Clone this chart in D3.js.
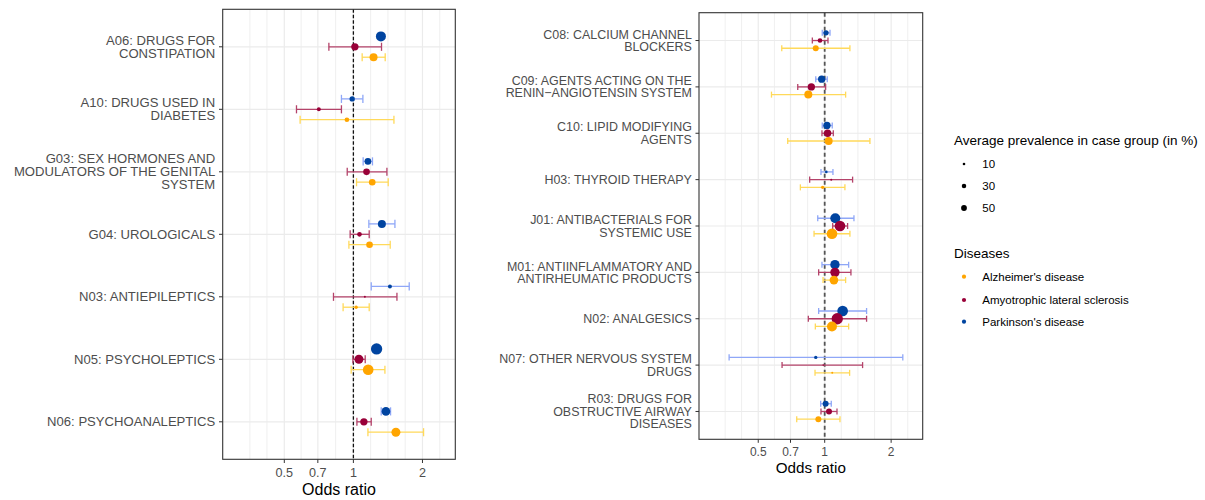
<!DOCTYPE html>
<html><head><meta charset="utf-8">
<script src="https://cdn.jsdelivr.net/npm/d3@7"></script>
<style>
body{margin:0;background:#fff;}
svg{display:block;font-family:"Liberation Sans",Arial,Helvetica,sans-serif;}
</style></head>
<body><svg id="c" width="1205" height="500"></svg>
<script>
// ---------- data ----------
const diseases = ["Alzheimer's disease", "Amyotrophic lateral sclerosis", "Parkinson's disease"];
const xTicks = [0.5, 0.7, 1, 2];
const xTickLabels = ["0.5", "0.7", "1", "2"];
const xMinor = [0.354, 0.42, 0.592, 0.837, 1.189, 1.414, 1.682, 2.378];
const sizeLegendValues = [10, 30, 50];

const leftLabels = ["A06: DRUGS FOR\nCONSTIPATION", "A10: DRUGS USED IN\nDIABETES",
  "G03: SEX HORMONES AND\nMODULATORS OF THE GENITAL\nSYSTEM", "G04: UROLOGICALS",
  "N03: ANTIEPILEPTICS", "N05: PSYCHOLEPTICS", "N06: PSYCHOANALEPTICS"];
const leftAD_or   = [1.224, 0.937, 1.208, 1.176, 1.028, 1.160, 1.532];
const leftAD_lo   = [1.092, 0.586, 1.032, 0.956, 0.902, 0.978, 1.157];
const leftAD_hi   = [1.376, 1.502, 1.418, 1.447, 1.172, 1.372, 2.022];
const leftAD_prev = [28.5, 9.7, 19.8, 19.8, 5, 50.7, 36];
const leftALS_or   = [1.015, 0.707, 1.141, 1.063, 1.122, 1.057, 1.111];
const leftALS_lo   = [0.782, 0.565, 0.940, 0.968, 0.819, 0.995, 1.036];
const leftALS_hi   = [1.326, 0.887, 1.400, 1.172, 1.548, 1.126, 1.196];
const leftALS_prev = [24, 7.1, 19.8, 9.7, 1.8, 36, 24];
const leftPD_or   = [1.318, 0.988, 1.157, 1.331, 1.443, 1.262, 1.386];
const leftPD_lo   = [1.300, 0.887, 1.103, 1.168, 1.196, 1.245, 1.322];
const leftPD_hi   = [1.336, 1.100, 1.211, 1.517, 1.751, 1.280, 1.452];
const leftPD_prev = [44.6, 12.7, 19.8, 28.5, 7.1, 57, 33.5];

const rightLabels = ["C08: CALCIUM CHANNEL\nBLOCKERS", "C09: AGENTS ACTING ON THE\nRENIN\u2212ANGIOTENSIN SYSTEM",
  "C10: LIPID MODIFYING\nAGENTS", "H03: THYROID THERAPY", "J01: ANTIBACTERIALS FOR\nSYSTEMIC USE",
  "M01: ANTIINFLAMMATORY AND\nANTIRHEUMATIC PRODUCTS", "N02: ANALGESICS",
  "N07: OTHER NERVOUS SYSTEM\nDRUGS", "R03: DRUGS FOR\nOBSTRUCTIVE AIRWAY\nDISEASES"];
const rightAD_or   = [0.911, 0.843, 1.042, 0.979, 1.079, 1.101, 1.079, 1.082, 0.936];
const rightAD_lo   = [0.639, 0.574, 0.680, 0.776, 0.895, 0.983, 0.907, 0.904, 0.747];
const rightAD_hi   = [1.301, 1.244, 1.603, 1.235, 1.301, 1.244, 1.284, 1.297, 1.173];
const rightAD_prev = [16, 28.5, 28.5, 5, 50.7, 33.5, 44.6, 1.8, 16];
const rightALS_or   = [0.952, 0.870, 1.031, 1.071, 1.173, 1.113, 1.140, 0.985, 1.046];
const rightALS_lo   = [0.879, 0.755, 0.972, 0.855, 1.087, 0.939, 0.843, 0.641, 0.962];
const rightALS_hi   = [1.035, 1.010, 1.094, 1.338, 1.270, 1.315, 1.548, 1.485, 1.137];
const rightALS_prev = [9.7, 24, 24, 1.8, 50.7, 38.8, 57, 0.8, 16];
const rightPD_or   = [1.014, 0.969, 1.024, 1.017, 1.117, 1.113, 1.206, 0.911, 1.010];
const rightPD_lo   = [0.975, 0.911, 0.975, 0.962, 0.930, 0.972, 0.939, 0.369, 0.959];
const rightPD_hi   = [1.057, 1.027, 1.082, 1.090, 1.357, 1.284, 1.548, 2.259, 1.071];
const rightPD_prev = [12.7, 24, 24, 3.2, 44.6, 38.8, 50.7, 5, 16];

// ---------- styles ----------
const pointColor = {"Alzheimer's disease":"#FFA500","Amyotrophic lateral sclerosis":"#990038","Parkinson's disease":"#0044A0"};
const ciColor = {"Alzheimer's disease":"#FFD95A","Amyotrophic lateral sclerosis":"#B4436A","Parkinson's disease":"#8FA7F7"};
const dodge = {"Alzheimer's disease":1,"Amyotrophic lateral sclerosis":0,"Parkinson's disease":-1};
const drawOrder = ["Parkinson's disease","Amyotrophic lateral sclerosis","Alzheimer's disease"];
const rScale = d3.scaleSqrt().domain([0, 60]).range([0, 5.8]);
const legendR = d3.scaleSqrt().domain([0, 50]).range([0, 2.9]);

function build(labels, ad, als, pd){
  const rows = [];
  const sets = {"Alzheimer's disease":ad,"Amyotrophic lateral sclerosis":als,"Parkinson's disease":pd};
  drawOrder.forEach(dz => {
    const s = sets[dz];
    labels.forEach((lab,i) => rows.push({cat:lab, disease:dz, or:s[0][i], lo:s[1][i], hi:s[2][i], prev:s[3][i]}));
  });
  return rows;
}
const leftData = build(leftLabels, [leftAD_or,leftAD_lo,leftAD_hi,leftAD_prev],
  [leftALS_or,leftALS_lo,leftALS_hi,leftALS_prev], [leftPD_or,leftPD_lo,leftPD_hi,leftPD_prev]);
const rightData = build(rightLabels, [rightAD_or,rightAD_lo,rightAD_hi,rightAD_prev],
  [rightALS_or,rightALS_lo,rightALS_hi,rightALS_prev], [rightPD_or,rightPD_lo,rightPD_hi,rightPD_prev]);

const svg = d3.select("#c");

function panel(opts){
  const {x0,x1,y0,y1,labels,data,refColor,refWidth,refDash,fs} = opts;
  const g = svg.append("g");
  const x = d3.scaleLog().domain([0.2695, 2.78]).range([x0, x1]);
  const y = d3.scalePoint().domain(labels).range([y0, y1]).padding(0.6);
  const step = y.step();
  const off = step/6;
  // grid
  g.selectAll(".mn").data(xMinor).join("line")
    .attr("x1",d=>x(d)).attr("x2",d=>x(d)).attr("y1",y0).attr("y2",y1)
    .attr("stroke","#EBEBEB").attr("stroke-width",0.8);
  g.selectAll(".mj").data(xTicks).join("line")
    .attr("x1",d=>x(d)).attr("x2",d=>x(d)).attr("y1",y0).attr("y2",y1)
    .attr("stroke","#EBEBEB").attr("stroke-width",1.2);
  g.selectAll(".hg").data(labels).join("line")
    .attr("x1",x0).attr("x2",x1).attr("y1",d=>y(d)).attr("y2",d=>y(d))
    .attr("stroke","#EBEBEB").attr("stroke-width",1.2);
  // reference line
  g.append("line").attr("x1",x(1)).attr("x2",x(1)).attr("y1",y0).attr("y2",y1)
    .attr("stroke",refColor).attr("stroke-width",refWidth).attr("stroke-dasharray",refDash);
  // error bars
  const cap = step*0.065;
  const eb = g.append("g").selectAll("g").data(data).join("g")
    .attr("stroke",d=>ciColor[d.disease]).attr("stroke-width",1.3).attr("fill","none");
  eb.append("line").attr("x1",d=>x(d.lo)).attr("x2",d=>x(d.hi))
    .attr("y1",d=>y(d.cat)+dodge[d.disease]*off).attr("y2",d=>y(d.cat)+dodge[d.disease]*off);
  eb.append("line").attr("x1",d=>x(d.lo)).attr("x2",d=>x(d.lo))
    .attr("y1",d=>y(d.cat)+dodge[d.disease]*off-cap).attr("y2",d=>y(d.cat)+dodge[d.disease]*off+cap);
  eb.append("line").attr("x1",d=>x(d.hi)).attr("x2",d=>x(d.hi))
    .attr("y1",d=>y(d.cat)+dodge[d.disease]*off-cap).attr("y2",d=>y(d.cat)+dodge[d.disease]*off+cap);
  // points
  g.append("g").selectAll("circle").data(data).join("circle")
    .attr("cx",d=>x(d.or)).attr("cy",d=>y(d.cat)+dodge[d.disease]*off)
    .attr("r",d=>Math.max(0.8,rScale(d.prev))).attr("fill",d=>pointColor[d.disease]);
  // border
  g.append("rect").attr("x",x0).attr("y",y0).attr("width",x1-x0).attr("height",y1-y0)
    .attr("fill","none").attr("stroke","#333").attr("stroke-width",1.1);
  // y axis
  const yl = g.append("g");
  labels.forEach(lab => {
    const yy = y(lab);
    yl.append("line").attr("x1",x0-3.7*fs).attr("x2",x0).attr("y1",yy).attr("y2",yy).attr("stroke","#333").attr("stroke-width",1);
    const lines = lab.split("\n");
    const lh = 13.1*fs;
    const t = yl.append("text").attr("text-anchor","end").attr("font-size",13.1*fs).attr("fill","#4D4D4D");
    lines.forEach((ln,k) => {
      t.append("tspan").attr("x",x0-7.5*fs).attr("y",yy + (k-(lines.length-1)/2)*lh).attr("dy","0.35em").text(ln);
    });
  });
  // x axis
  const xa = g.append("g");
  xTicks.forEach((v,i) => {
    xa.append("line").attr("x1",x(v)).attr("x2",x(v)).attr("y1",y1).attr("y2",y1+3.7*fs).attr("stroke","#333").attr("stroke-width",1);
    xa.append("text").attr("x",x(v)).attr("y",y1+12.8*fs).attr("dy","0.35em").attr("text-anchor","middle")
      .attr("font-size",12.6*fs).attr("fill","#4D4D4D").text(xTickLabels[i]);
  });
  xa.append("text").attr("x",(x0+x1)/2).attr("y",y1+29.8*fs).attr("dy","0.35em").attr("text-anchor","middle")
    .attr("font-size",16*fs).attr("fill","#000").text("Odds ratio");
}

panel({x0:222.7,x1:455.3,y0:9.3,y1:459.3,labels:leftLabels,data:leftData,refColor:"#111",refWidth:1.3,refDash:"3.5,2",fs:1});
panel({x0:699,x1:922.7,y0:12.7,y1:439.3,labels:rightLabels,data:rightData,refColor:"#555",refWidth:1.8,refDash:"4,3",fs:0.95});

// ---------- legend ----------
const lg = svg.append("g");
lg.append("text").attr("x",954).attr("y",140.7).attr("dy","0.35em").attr("font-size",13.5).attr("fill","#000")
  .text("Average prevalence in case group (in %)");
const sizeY = [164, 186, 208];
sizeLegendValues.forEach((v,i) => {
  lg.append("circle").attr("cx",964).attr("cy",sizeY[i]).attr("r",legendR(v)).attr("fill","#000");
  lg.append("text").attr("x",982.3).attr("y",sizeY[i]).attr("dy","0.35em").attr("font-size",11.5).attr("fill","#000").text(v);
});
lg.append("text").attr("x",954).attr("y",253.3).attr("dy","0.35em").attr("font-size",13.5).attr("fill","#000").text("Diseases");
const disY = [276.7, 300, 321.7];
diseases.forEach((dz,i) => {
  lg.append("circle").attr("cx",964).attr("cy",disY[i]).attr("r",2.1).attr("fill",pointColor[dz]);
  lg.append("text").attr("x",982.3).attr("y",disY[i]).attr("dy","0.35em").attr("font-size",11.5).attr("fill","#000").text(dz);
});
</script>
</body></html>
